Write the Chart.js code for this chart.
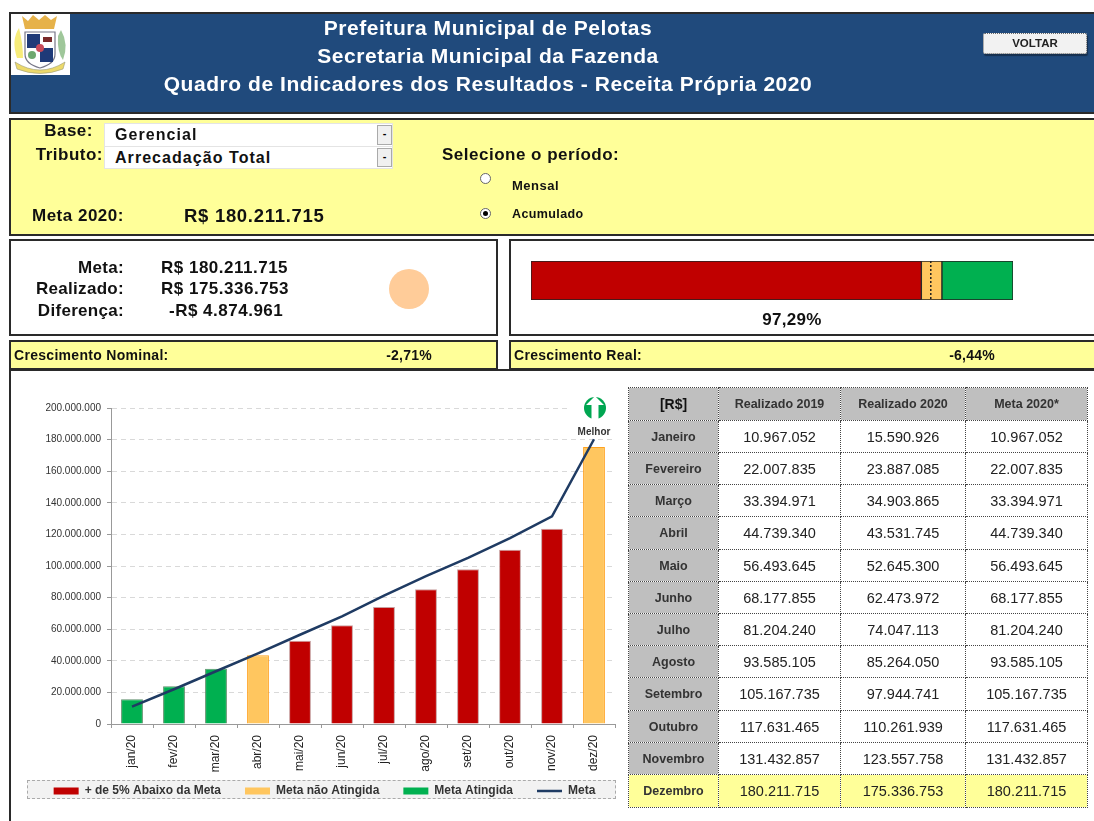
<!DOCTYPE html>
<html lang="pt-BR">
<head>
<meta charset="utf-8">
<title>Quadro de Indicadores</title>
<script src="https://cdn.jsdelivr.net/npm/chart.js@4"></script>
<style>
html,body{margin:0;padding:0;background:#fff;width:1094px;height:821px;overflow:hidden}
#page{position:absolute;left:0;top:0;width:1094px;height:821px;overflow:hidden;font-family:"Liberation Sans",Arial,sans-serif;color:#111;filter:blur(.45px)}
.abs,.box,.t{position:absolute;box-sizing:border-box}
.box{border:2px solid #2a2a2a}
.t{white-space:nowrap;font-weight:bold;line-height:1;transform:translateY(-50%)}
.r{text-align:right}.c{text-align:center}
.y{background:#ffff99}
.combo{position:absolute;left:104px;width:287px;background:#fff;border:1px solid #e4e4e4}
.combo b{position:absolute;left:10px;top:50%;transform:translateY(-50%);font-size:16px;letter-spacing:1.05px;color:#111}
.combo i{position:absolute;right:0;top:1px;bottom:1px;width:15px;background:#f0f0f0;border:1px solid #aaa;box-sizing:border-box;font:bold 11px "Liberation Sans";text-align:center;line-height:15px;color:#000;font-style:normal}
.radio{position:absolute;width:11px;height:11px;border-radius:50%;background:#fff;border:1px solid #666;box-sizing:border-box}
table{position:absolute;left:628px;top:387px;width:459px;border-collapse:collapse;table-layout:fixed;font-family:"Liberation Sans",Arial,sans-serif}
td,th{border:1px dotted #444;padding:0;text-align:center;overflow:hidden;white-space:nowrap}
th{background:#bfbfbf;font-weight:bold;font-size:12.5px;color:#333}
th.k{font-size:14px;color:#111}
td{font-size:14.5px;color:#222}
tr.dz td,tr.dz th{background:#ffff99}
</style>
</head>
<body>
<div id="page">
  <!-- header -->
  <div class="box" style="left:9px;top:12px;width:1090px;height:102px;background:#204a7c"></div>
  <div class="abs" style="left:11px;top:14px;width:59px;height:61px;background:#fff">
    <svg width="59" height="61" viewBox="0 0 59 61">
      <path d="M6 44 Q0 26 8 14 Q12 30 12 44Z" fill="#f7ec7a"/>
      <path d="M50 16 Q58 30 52 46 Q46 38 47 22Z" fill="#9fc79a"/>
      <path d="M11 2 L17 7 L22 1 L28 6 L34 1 L40 6 L46 2 L43 15 L14 15Z" fill="#e6b24a"/>
      <path d="M14 18 H44 V40 Q44 50 29 54 Q14 50 14 40Z" fill="#fff" stroke="#778" stroke-width="1.2"/>
      <rect x="16" y="20" width="13" height="14" fill="#1f3a78"/>
      <rect x="29" y="34" width="13" height="14" fill="#1f3a78"/>
      <rect x="32" y="23" width="9" height="5" fill="#7a2a2a"/>
      <circle cx="21" cy="41" r="4" fill="#6fa86f"/>
      <circle cx="29" cy="34" r="4" fill="#c84a5a"/>
      <path d="M4 48 Q29 64 54 48 L52 55 Q29 64 6 55Z" fill="#ecd96a" stroke="#997" stroke-width=".6"/>
    </svg>
  </div>
  <div class="t c" style="left:0;width:976px;top:27px;font-size:21px;letter-spacing:.55px;color:#fff">Prefeitura Municipal de Pelotas</div>
  <div class="t c" style="left:0;width:976px;top:55px;font-size:21px;letter-spacing:.55px;color:#fff">Secretaria Municipal da Fazenda</div>
  <div class="t c" style="left:0;width:976px;top:83px;font-size:21px;letter-spacing:.55px;color:#fff">Quadro de Indicadores dos Resultados - Receita Própria 2020</div>
  <div class="abs" style="left:983px;top:33px;width:104px;height:21px;background:#f2f2f2;border:1px dotted #666;border-radius:2px;box-shadow:1px 2px 1px #16304f"></div>
  <div class="t c" style="left:983px;width:104px;top:43.5px;font-size:11.5px;color:#222">VOLTAR</div>

  <!-- selection panel -->
  <div class="box y" style="left:9px;top:118px;width:1090px;height:118px"></div>
  <div class="t r" style="left:20px;width:73px;top:130px;font-size:17px;letter-spacing:.5px">Base:</div>
  <div class="t r" style="left:20px;width:83px;top:154px;font-size:17px;letter-spacing:.5px">Tributo:</div>
  <div class="combo" style="top:123px;height:22px"><b>Gerencial</b><i>-</i></div>
  <div class="combo" style="top:146px;height:21px"><b>Arrecadação Total</b><i>-</i></div>
  <div class="t" style="left:442px;top:154px;font-size:17px;letter-spacing:.5px">Selecione o período:</div>
  <div class="radio" style="left:480px;top:173px"></div>
  <div class="radio" style="left:480px;top:208px"><div class="abs" style="left:2px;top:2px;width:5px;height:5px;border-radius:50%;background:#000"></div></div>
  <div class="t" style="left:512px;top:185px;font-size:13px;letter-spacing:.5px">Mensal</div>
  <div class="t" style="left:512px;top:214px;font-size:12.5px;letter-spacing:.4px">Acumulado</div>
  <div class="t" style="left:32px;top:215px;font-size:17px;letter-spacing:.5px">Meta 2020:</div>
  <div class="t" style="left:184px;top:216px;font-size:18.5px;letter-spacing:.7px">R$ 180.211.715</div>

  <!-- results -->
  <div class="box" style="left:9px;top:239px;width:489px;height:97px;background:#fff"></div>
  <div class="t r" style="left:20px;width:104px;top:267px;font-size:17px;letter-spacing:.3px">Meta:</div>
  <div class="t r" style="left:20px;width:104px;top:288px;font-size:17px;letter-spacing:.3px">Realizado:</div>
  <div class="t r" style="left:20px;width:104px;top:310px;font-size:17px;letter-spacing:.3px">Diferença:</div>
  <div class="t" style="left:161px;top:267px;font-size:17px;letter-spacing:.5px">R$ 180.211.715</div>
  <div class="t" style="left:161px;top:288px;font-size:17px;letter-spacing:.5px">R$ 175.336.753</div>
  <div class="t" style="left:169px;top:310px;font-size:17px;letter-spacing:.5px">-R$ 4.874.961</div>
  <div class="abs" style="left:389px;top:269px;width:40px;height:40px;border-radius:50%;background:#ffcc99"></div>

  <div class="box" style="left:509px;top:239px;width:590px;height:97px;background:#fff"></div>
  <div class="abs" style="left:529px;top:259px;width:486px;height:43px"><canvas id="gauge" width="486" height="43"></canvas></div>
  <div class="t c" style="left:692px;width:200px;top:319px;font-size:17px;letter-spacing:.3px">97,29%</div>

  <div class="box y" style="left:9px;top:340px;width:489px;height:30px"></div>
  <div class="t" style="left:14px;top:355px;font-size:14px;letter-spacing:.3px">Crescimento Nominal:</div>
  <div class="t c" style="left:359px;width:100px;top:355px;font-size:14px;letter-spacing:.2px">-2,71%</div>
  <div class="box y" style="left:509px;top:340px;width:590px;height:30px"></div>
  <div class="t" style="left:514px;top:355px;font-size:14px;letter-spacing:.3px">Crescimento Real:</div>
  <div class="t c" style="left:922px;width:100px;top:355px;font-size:14px;letter-spacing:.2px">-6,44%</div>

  <!-- main -->
  <div class="box" style="left:9px;top:369px;width:1090px;height:470px;background:#fff"></div>
  <div class="abs" style="left:27px;top:780px;width:589px;height:19px;background:#f2f2f2;border:1px dashed #aaa"></div>
  <div class="abs" style="left:10px;top:380px;width:626px;height:440px"><canvas id="chart" width="626" height="440"></canvas></div>
  <div class="abs" style="left:570px;top:394px;width:45px;height:30px;background:#fff"></div>
  <div class="abs" style="left:583px;top:396px;width:24px;height:24px">
    <svg width="24" height="24" viewBox="0 0 24 24">
      <circle cx="12" cy="12" r="11" fill="#00a651"/>
      <path d="M12 0 L21 9 H15.5 V24 H8.5 V9 H3Z" fill="#fff"/>
    </svg>
  </div>
  <div class="t c" style="left:564px;width:60px;top:432px;font-size:10px;color:#333">Melhor</div>
  <table id="tbl"></table>
</div>
<script>
const chartLabels = ['jan/20','fev/20','mar/20','abr/20','mai/20','jun/20','jul/20','ago/20','set/20','out/20','nov/20','dez/20'];
const monthNames = ['Janeiro','Fevereiro','Março','Abril','Maio','Junho','Julho','Agosto','Setembro','Outubro','Novembro','Dezembro'];
const realizado2019 = [10967052,22007835,33394971,44739340,56493645,68177855,81204240,93585105,105167735,117631465,131432857,180211715];
const realizado2020 = [15590926,23887085,34903865,43531745,52645300,62473972,74047113,85264050,97944741,110261939,123557758,175336753];
const meta2020 = [10967052,22007835,33394971,44739340,56493645,68177855,81204240,93585105,105167735,117631465,131432857,180211715];
const barStatus = ['met','met','met','near','below','below','below','below','below','below','below','near'];
const gaugeBands = [95,5,17.3];
const gaugeValue = 97.29;

const fmt = n => String(n).replace(/\B(?=(\d{3})+(?!\d))/g,'.');
const pick = s => realizado2020.map((v,i)=>barStatus[i]===s?v:null);

/* table */
const rowsH = [33,32,32,32,33,32,32,32,32,33,32,32,33];
let html = '<colgroup><col style="width:90px"><col style="width:122px"><col style="width:125px"><col style="width:122px"></colgroup>';
html += `<tr style="height:${rowsH[0]}px"><th class="k">[R$]</th><th>Realizado 2019</th><th>Realizado 2020</th><th>Meta 2020*</th></tr>`;
monthNames.forEach((m,i)=>{
  html += `<tr class="${i===11?'dz':''}" style="height:${rowsH[i+1]}px"><th>${m}</th><td>${fmt(realizado2019[i])}</td><td>${fmt(realizado2020[i])}</td><td>${fmt(meta2020[i])}</td></tr>`;
});
document.getElementById('tbl').innerHTML = html;

const FONT = '"Liberation Sans", Arial, sans-serif';
Chart.defaults.font.family = FONT;
Chart.defaults.animation = false;

new Chart(document.getElementById('chart'),{
  type:'bar',
  data:{labels:chartLabels,datasets:[
    {label:'+ de 5% Abaixo da Meta',data:pick('below'),backgroundColor:'#c00000',borderColor:'#c9a0a0',borderWidth:1,order:1},
    {label:'Meta não Atingida',data:pick('near'),backgroundColor:'#ffc65f',borderColor:'#ffa21f',borderWidth:1,order:2},
    {label:'Meta Atingida',data:pick('met'),backgroundColor:'#00b050',borderColor:'#5d8f6a',borderWidth:1,order:3},
    {type:'line',label:'Meta',data:meta2020,borderColor:'#1f3b63',backgroundColor:'#1f3b63',borderWidth:2.5,pointRadius:0,tension:0,order:0}
  ]},
  options:{
    responsive:false,
    layout:{padding:{top:28,right:21,left:0,bottom:0}},
    datasets:{bar:{barPercentage:.52,categoryPercentage:1}},
    plugins:{
      tooltip:{enabled:false},
      legend:{position:'bottom',labels:{
        usePointStyle:true,pointStyleWidth:25,boxHeight:7,padding:24,color:'#333',
        font:{size:12,weight:'bold',family:FONT},
        generateLabels(chart){
          const items = Chart.defaults.plugins.legend.labels.generateLabels(chart);
          items.forEach(it=>{
            const isLine = chart.data.datasets[it.datasetIndex].type==='line';
            it.pointStyle = isLine?'line':'rect';
            if(!isLine){it.lineWidth=0;}
          });
          return items.sort((a,b)=>a.datasetIndex-b.datasetIndex);
        }
      }}
    },
    scales:{
      x:{stacked:true,
        afterFit(s){s.height=50;},
        grid:{drawOnChartArea:false,drawTicks:true,tickLength:4,tickColor:'#999'},
        border:{color:'#999',width:1},
        ticks:{minRotation:90,maxRotation:90,autoSkip:false,padding:7,color:'#222',font:{size:12,family:FONT}}
      },
      y:{stacked:true,min:0,max:200000000,
        afterFit(s){s.width=101;},
        grid:{color:'#d9d9d9',lineWidth:1,tickLength:4,tickColor:'#999',tickBorderDash:[],tickBorderDashOffset:0},
        border:{color:'#999',width:1,dash:[5,4]},
        ticks:{stepSize:20000000,padding:6,color:'#333',font:{size:10,family:FONT},callback:v=>fmt(v)}
      }
    }
  },
  plugins:[{id:'legendPlacement',afterLayout(c){
    const L=c.legend, h=L.height;
    L.top=381; L.bottom=381+h;
    L.left+=12; L.right+=12;
  }}]
});

/* performance gauge */
new Chart(document.getElementById('gauge'),{
  type:'bar',
  data:{labels:['Resultado'],datasets:[
    {label:'+ de 5% Abaixo',data:[gaugeBands[0]],backgroundColor:'#c00000'},
    {label:'Meta não Atingida',data:[gaugeBands[1]],backgroundColor:'#ffc65f'},
    {label:'Meta Atingida',data:[gaugeBands[2]],backgroundColor:'#00b050'}
  ]},
  options:{
    indexAxis:'y',responsive:false,
    layout:{padding:2},
    datasets:{bar:{barPercentage:1,categoryPercentage:1,borderWidth:1,borderColor:'#222',borderSkipped:false}},
    plugins:{legend:{display:false},tooltip:{enabled:false}},
    scales:{
      x:{display:false,stacked:true,min:0,max:gaugeBands[0]+gaugeBands[1]+gaugeBands[2]},
      y:{display:false,stacked:true}
    }
  },
  plugins:[{id:'marker',afterDatasetsDraw(c){
    const x=c.scales.x.getPixelForValue(gaugeValue),a=c.chartArea,g=c.ctx;
    g.save();g.strokeStyle='#222';g.lineWidth=1.5;g.setLineDash([2,2]);
    g.beginPath();g.moveTo(x,a.top);g.lineTo(x,a.bottom);g.stroke();g.restore();
  }}]
});
</script>
</body>
</html>
